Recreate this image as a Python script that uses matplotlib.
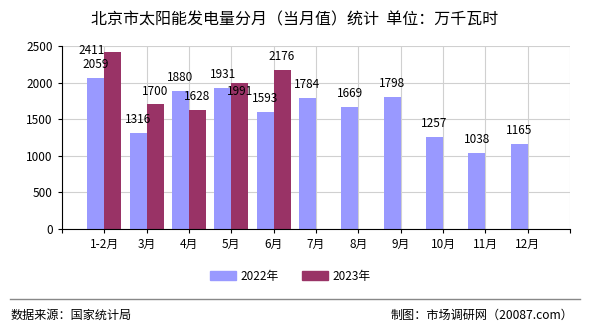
import numpy as np
import matplotlib.pyplot as plt
from matplotlib.patches import Patch

plt.rcParams['font.family'] = ['Noto Sans CJK SC', 'DejaVu Sans']

months = ["1-2月", "3月", "4月", "5月", "6月", "7月", "8月", "9月", "10月", "11月", "12月"]
vals_2022 = [2059, 1316, 1880, 1931, 1593, 1784, 1669, 1798, 1257, 1038, 1165]
vals_2023 = [2411, 1700, 1628, 1991, 2176]

C2022 = "#9999FF"
C2023 = "#993366"

# label offsets in points (dx, dy); a few are nudged to avoid overlaps like in the original
label_shift_2023 = {0: (-15, -3), 3: (0, -11)}

fig = plt.figure(figsize=(5.9, 3.3), dpi=100)
ax = fig.add_axes([0.105, 0.306, 0.861, 0.555])

x = np.arange(len(months))
w = 0.4
ax.bar(x[:len(vals_2022)] - w / 2, vals_2022, width=w, color=C2022, zorder=2)
ax.bar(x[:len(vals_2023)] + w / 2, vals_2023, width=w, color=C2023, zorder=2)

for i, v in enumerate(vals_2022):
    ax.annotate(str(v), (x[i] - w / 2, v), xytext=(0, 5), textcoords="offset points",
                ha="center", va="bottom", fontsize=8.5, zorder=3)
for i, v in enumerate(vals_2023):
    dx, dy = label_shift_2023.get(i, (0, 5))
    ax.annotate(str(v), (x[i] + w / 2, v), xytext=(dx, dy), textcoords="offset points",
                ha="center", va="bottom", fontsize=8.5, zorder=3)

ax.set_xlim(-1, len(months))
ax.set_ylim(0, 2500)
ax.set_yticks(np.arange(0, 2501, 500))
ax.set_xticks(np.arange(-1, len(months) + 1))
ax.set_xticklabels([""] + months + [""])
ax.tick_params(axis="both", labelsize=8.5, length=3, color="black")
ax.grid(True, color="#d0d0d0", linewidth=0.8, zorder=0)
for s in ["top", "right"]:
    ax.spines[s].set_visible(False)
ax.set_axisbelow(True)

fig.text(0.5, 0.94, "北京市太阳能发电量分月（当月值）统计  单位：万千瓦时",
         ha="center", va="center", fontsize=11.5)

handles = [Patch(color=C2022, label="2022年"), Patch(color=C2023, label="2023年")]
fig.legend(handles=handles, loc="center", bbox_to_anchor=(0.492, 0.163), ncol=2,
           frameon=False, fontsize=8.5, handlelength=2.2, handleheight=0.8,
           columnspacing=2.0, handletextpad=0.4)

fig.add_artist(plt.Line2D([0.017, 0.983], [0.094, 0.094], color="#888888", linewidth=1.0))
fig.text(0.018, 0.045, "数据来源：国家统计局", ha="left", va="center", fontsize=8.7)
fig.text(0.972, 0.045, "制图：市场调研网（20087.com）", ha="right", va="center", fontsize=8.7)

fig.savefig("out.png", dpi=100)
